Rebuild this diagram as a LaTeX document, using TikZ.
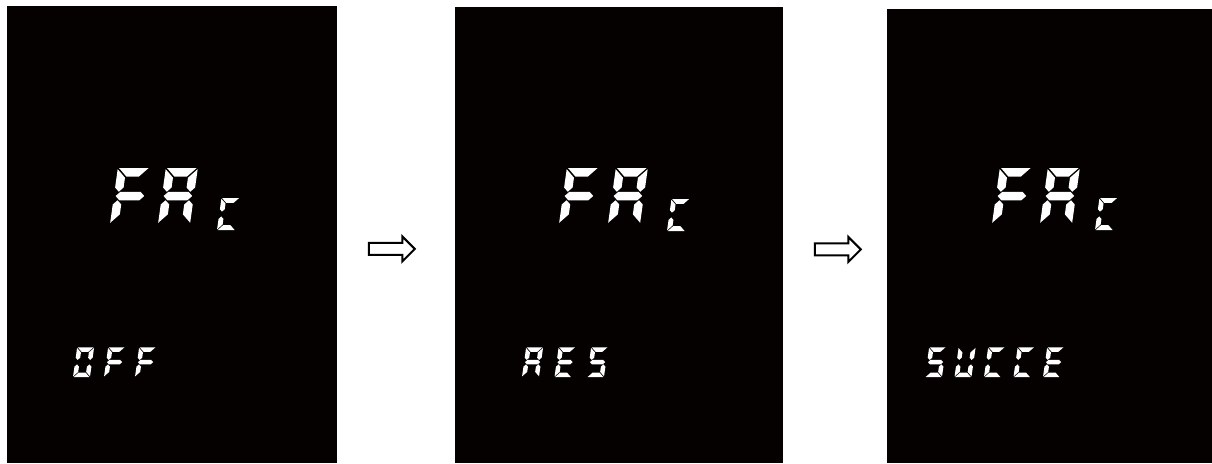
\documentclass[tikz,border=0pt]{standalone}
\usepackage{tikz}
\usetikzlibrary{
  positioning,
  shapes.arrows
}
\definecolor{lcdbg}{HTML}{050101}
\definecolor{lcdlit}{HTML}{FFFFFF}
\definecolor{arrowline}{HTML}{000000}

% outline of each LCD segment, digit box 32 x 56, origin bottom left
\def\lcdsega{(1.2,56) -- (30.8,56) -- (22.3,47.5) -- (9.7,47.5) -- cycle}
\def\lcdsegd{(1.2,0) -- (30.8,0) -- (22.3,8.5) -- (9.7,8.5) -- cycle}
\def\lcdsegg{(1.7,28) -- (5.95,32.25) -- (26.05,32.25) -- (30.3,28) -- (26.05,23.75) -- (5.95,23.75) -- cycle}
\def\lcdsegf{(0,54.8) -- (8.5,46.3) -- (8.5,36.5) -- (4.25,32.25) -- (0,36.5) -- cycle}
\def\lcdsege{(0,1.2) -- (8.5,9.7) -- (8.5,19.5) -- (4.25,23.75) -- (0,19.5) -- cycle}
\def\lcdsegb{(32,54.8) -- (23.5,46.3) -- (23.5,36.5) -- (27.75,32.25) -- (32,36.5) -- cycle}
\def\lcdsegc{(32,1.2) -- (23.5,9.7) -- (23.5,19.5) -- (27.75,23.75) -- (32,19.5) -- cycle}

% segments lit for each letter
\def\lcdletterF{a,f,e,g}
\def\lcdletterA{a,b,c,e,f,g}
\def\lcdletterC{a,f,e,d}
\def\lcdletterO{a,b,c,d,e,f}
\def\lcdletterE{a,f,g,e,d}
\def\lcdletterS{a,f,g,c,d}
\def\lcdletterU{f,e,d,c,b}

% one character: x, y of bottom left (px), scale, letter
\newcommand{\lcdchar}[4]{%
  \begin{scope}[shift={(#1,#2)}, x=0.5pt, y=0.5pt, scale=#3, xslant=0.14]
    \edef\lcdsegs{\csname lcdletter#4\endcsname}
    \foreach \s in \lcdsegs {
      \expandafter\let\expandafter\lcdpath\csname lcdseg\s\endcsname
      \fill[lcdon] \lcdpath;
    }
  \end{scope}}
% a row of characters: x, y, scale, pitch, letters
\newcommand{\lcdword}[5]{%
  \foreach \ch [count=\i from 0] in {#5} {\lcdchar{#1+\i*#4}{#2}{#3}{\ch}}}

\begin{document}
\begin{tikzpicture}[
  x=0.5pt, y=-0.5pt,
  lcdpanel/.style={
    rectangle, fill=lcdbg, draw=none, inner sep=0pt
  },
  lcdon/.style={
    fill=lcdlit, draw=none
  },
  flowarrow/.style={
    single arrow, draw=arrowline, fill=white, line width=1pt,
    inner xsep=0pt, inner ysep=2.5pt,
    single arrow head extend=3.25pt, single arrow tip angle=90,
    minimum height=23pt
  }
]
\useasboundingbox (0,0) rectangle (1212,463);

% ---- Screens ----
\node[lcdpanel, minimum width=165pt, minimum height=228.5pt, anchor=north west] (p1) at (7,6) {};
\node[lcdpanel, minimum width=164pt, minimum height=228pt, anchor=north west] (p2) at (455,7) {};
\node[lcdpanel, minimum width=162.5pt, minimum height=227pt, anchor=north west] (p3) at (887,9) {};

% Step arrows
\node[flowarrow, right=15pt of p1, yshift=-7pt] (a12) {};
\node[flowarrow, right=15pt of p2, yshift=-7pt] (a23) {};

% ---- Screen 1 ----
\lcdword{110}{224}{1}{48}{F,A}
\lcdchar{217}{230}{0.57}{C}
\lcdword{73}{377}{0.53}{31}{O,F,F}

% ---- Screen 2 ----
\lcdword{559}{224}{1}{49}{F,A}
\lcdchar{667}{231}{0.57}{C}
\lcdword{522}{377}{0.53}{32.5}{A,E,S}

% ---- Screen 3 ----
\lcdword{992}{224}{1}{48}{F,A}
\lcdchar{1095}{230}{0.57}{C}
\lcdword{925}{377}{0.53}{29.5}{S,U,C,C,E}

\end{tikzpicture}
\end{document}
